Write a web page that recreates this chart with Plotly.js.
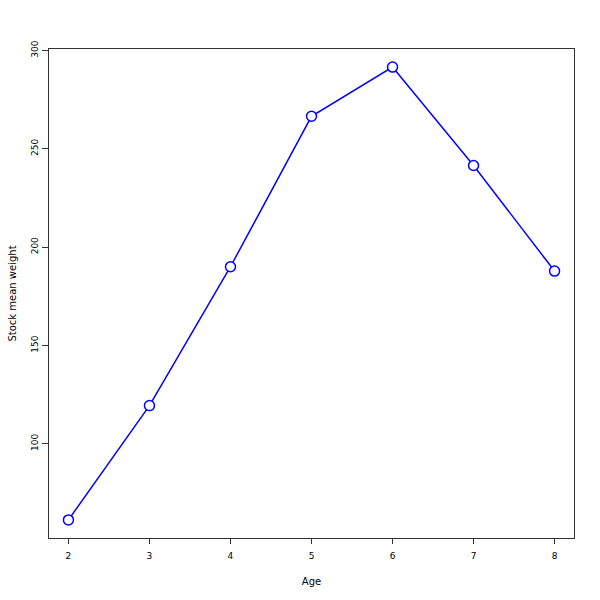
<!DOCTYPE html>
<html>
<head>
<meta charset="utf-8">
<script src="https://cdn.plot.ly/plotly-3.0.1.min.js"></script>
<style>html,body{margin:0;padding:0;background:#fff}#chart{width:600px;height:600px}</style>
</head>
<body>
<div id="chart"></div>
<script>
const ages = [2, 3, 4, 5, 6, 7, 8];
const meanWeight = [61.3, 119.4, 190.0, 266.5, 291.5, 241.5, 187.8];
const xTicks = [2, 3, 4, 5, 6, 7, 8];
const yTicks = [100, 150, 200, 250, 300];

const trace = {
  x: ages,
  y: meanWeight,
  type: 'scatter',
  mode: 'lines+markers',
  line: {color: '#0000ff', width: 1.5},
  marker: {symbol: 'circle', size: 10, color: '#ffffff', line: {color: '#0000ff', width: 1.5}},
  hoverinfo: 'skip'
};

const font = {family: 'DejaVu Sans, sans-serif', size: 9, color: '#000'};
const titleFont = {family: 'DejaVu Sans, sans-serif', size: 10, color: '#000'};

const layout = {
  width: 600, height: 600,
  margin: {l: 49, r: 25.5, t: 48.6, b: 61.6},
  paper_bgcolor: '#fff', plot_bgcolor: '#fff',
  showlegend: false,
  font: font,
  xaxis: {
    range: [1.76, 8.24],
    tickvals: xTicks,
    ticktext: xTicks.map(String),
    ticks: 'outside', ticklen: 5, tickcolor: '#333', tickwidth: 1,
    ticklabelstandoff: 4,
    showgrid: false, zeroline: false,
    showline: true, linecolor: '#333', linewidth: 1, mirror: true,
    tickfont: font,
    title: {text: 'Age', font: titleFont, standoff: 18}
  },
  yaxis: {
    range: [52.1, 300.7],
    tickvals: yTicks,
    ticktext: yTicks.map(String),
    tickangle: -90,
    ticks: 'outside', ticklen: 6, tickcolor: '#333', tickwidth: 1,
    showgrid: false, zeroline: false,
    showline: true, linecolor: '#333', linewidth: 1, mirror: true,
    tickfont: font,
    title: {text: 'Stock mean weight', font: titleFont, standoff: 11}
  }
};

Plotly.newPlot('chart', [trace], layout, {staticPlot: true, displayModeBar: false});
</script>
</body>
</html>
